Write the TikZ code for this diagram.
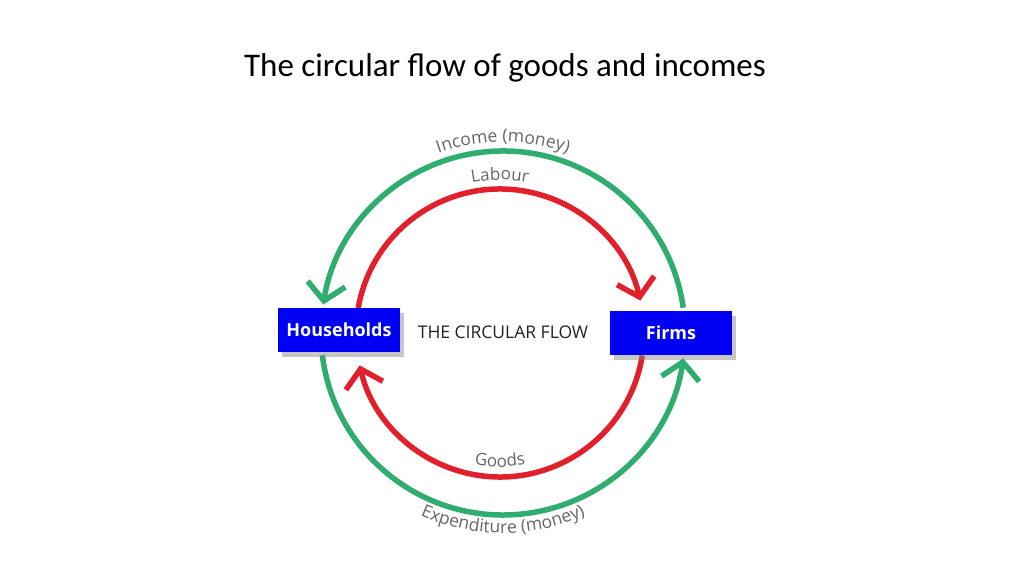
\documentclass[tikz,border=0pt]{standalone}
\usepackage{fontspec}
\setmainfont{Open Sans}
\newfontfamily\titlefont{Carlito}
\usetikzlibrary{arrows.meta,shadows,decorations.text}
\definecolor{grn}{HTML}{2EAD6E}
\definecolor{rd}{HTML}{E2202B}
\definecolor{lbl}{HTML}{666666}
\tikzset{
  box/.style={fill={rgb,255:red,0;green,0;blue,245},draw=none,text=white,font=\bfseries\fontsize{18}{20}\selectfont,
    minimum width=122pt,minimum height=44pt,inner sep=0pt,drop shadow={shadow xshift=4pt,shadow yshift=-5pt,opacity=0.45}},
  gflow/.style={grn,line width=5.5pt,-{Straight Barb[length=17pt,width=38pt,line width=5.5pt]}},
  rflow/.style={rd,line width=5.5pt,-{Straight Barb[length=17pt,width=38pt,line width=5.5pt]}},
  curvy/.style={decorate,decoration={text along path,text align=center,text={#1},
    text color=lbl}}
}
\begin{document}
\begin{tikzpicture}[x=1pt,y=1pt]
\useasboundingbox (0,0) rectangle (1024,576);
\node[font=\titlefont\fontsize{33}{36}\selectfont] (title) at (505,508) {The circular flow of goods and incomes};
\coordinate (gc) at (503,243);
\coordinate (rc) at (500,243);
% green arcs
\draw[gflow] ([shift={(8:182)}]gc) coordinate (g1) arc[start angle=8,end angle=171,radius=182];
\draw[gflow] ([shift={(187:182)}]gc) coordinate (g2) arc[start angle=187,end angle=352,radius=182];
% red arcs
\draw[rflow] ([shift={(170:144)}]rc) coordinate (r1) arc[start angle=170,end angle=13,radius=144];
\draw[rflow] ([shift={(351:144)}]rc) coordinate (r2) arc[start angle=351,end angle=193,radius=144];
% labels
\path[curvy={|\fontsize{17.5}{17}\selectfont|Income (money)}] ([shift={(125:191)}]gc) arc[start angle=125,end angle=55,radius=191];
\path[curvy={|\fontsize{17}{17}\selectfont|Labour}] ([shift={(110:153)}]rc) arc[start angle=110,end angle=70,radius=153];
\path[curvy={|\fontsize{17}{17}\selectfont|Goods}] ([shift={(245:134)}]rc) arc[start angle=245,end angle=295,radius=134];
\path[curvy={|\fontsize{17.5}{17}\selectfont|Expenditure (money)}] ([shift={(237:200)}]gc) arc[start angle=237,end angle=303,radius=200];
\node[box] (hh) at (339,246) {Households};
\node[box] (firms) at (671,243) {Firms};
\node[font=\fontsize{17.5}{20}\selectfont,text={rgb,255:red,34;green,34;blue,34}] (cf) at (503,244) {THE CIRCULAR FLOW};
\end{tikzpicture}
\end{document}
